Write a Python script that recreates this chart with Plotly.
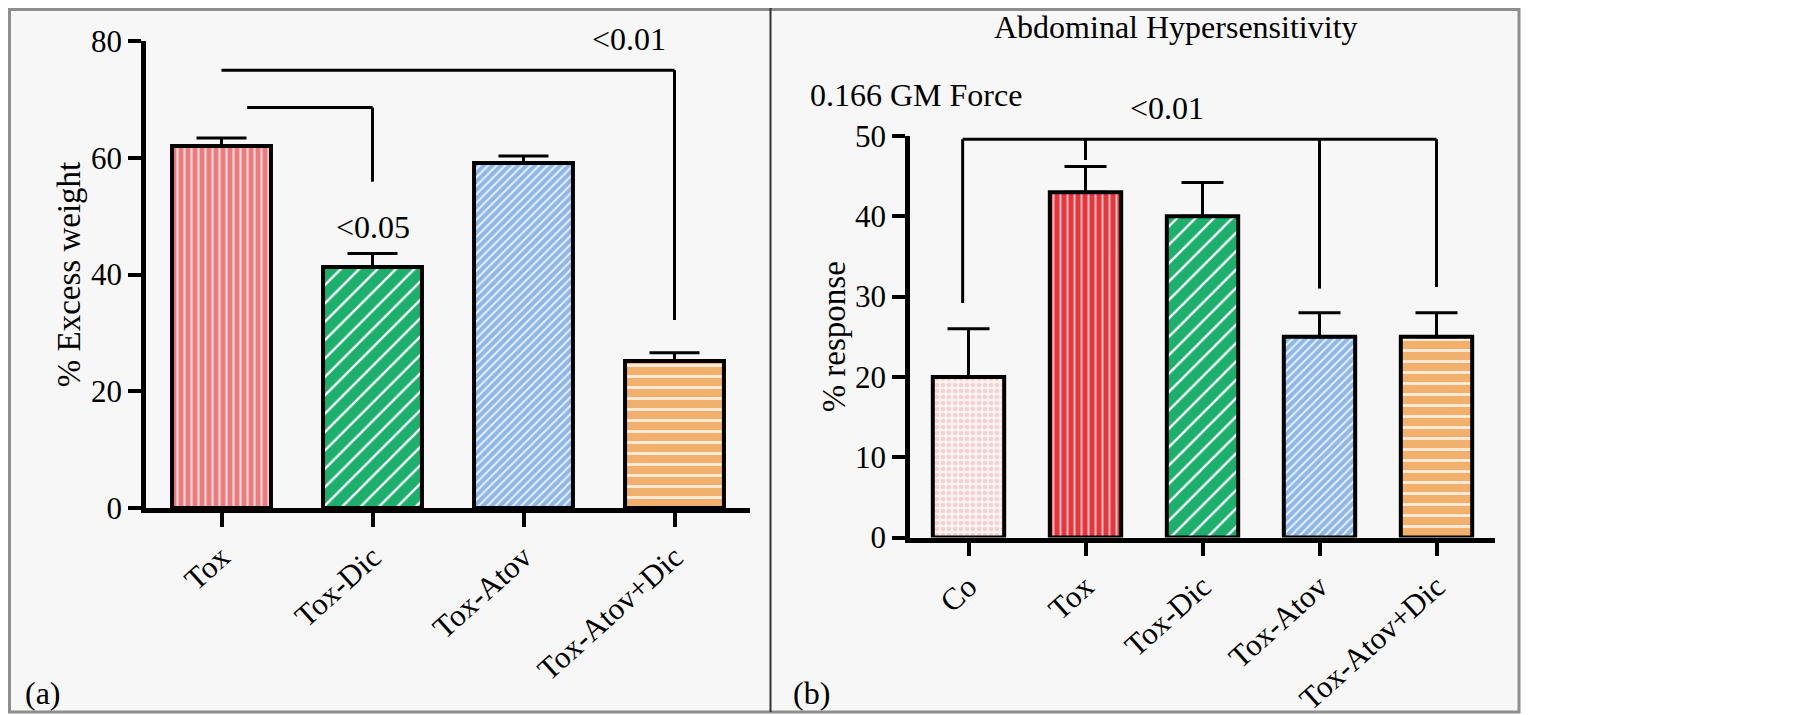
import plotly.graph_objects as go

# datos del panel (a): exceso de peso
cats_a = ['Tox', 'Tox-Dic', 'Tox-Atov', 'Tox-Atov+Dic']
weight = [62.0, 41.3, 59.1, 25.2]
weight_err = [1.4, 2.3, 1.2, 1.4]

# datos del panel (b): hipersensibilidad abdominal
cats_b = ['Co', 'Tox', 'Tox-Dic', 'Tox-Atov', 'Tox-Atov+Dic']
response = [20.0, 43.0, 40.0, 25.0, 25.0]
response_err = [6.0, 3.2, 4.2, 3.0, 3.0]

# corchetes de significancia: (desde, hasta, altura, caída en el extremo derecho)
brackets_a = [
    (0, 3, 75.0, 32.2),
    (0.17, 1, 68.6, 55.9),
]
# etiquetas de p: (texto, posición x en categorías, posición y en píxeles)
pvals_a = [('<0.01', 2.7, 39), ('<0.05', 1, 227)]

bracket_b = 49.6
drop_cats_b = [0, 1, 3, 4]
drops_b = [29.2, 47.0, 31.0, 31.2]
pvals_b = [('<0.01', 1.7, 108)]

FONT = 'Liberation Serif'
W, H = 1802, 715
OFF = 8  # margen del <body> en la página

# estilo de relleno de cada barra
styles_a = [
    dict(shape='|', bgcolor='#ee7a7c', fgcolor='#fbdede', size=7, solidity=0.3),
    dict(shape='/', bgcolor='#1daf6c', fgcolor='#ffffff', size=13, solidity=0.18),
    dict(shape='/', bgcolor='#8db6e6', fgcolor='#e4eefa', size=6, solidity=0.35),
    dict(shape='-', bgcolor='#f1b06c', fgcolor='#fdeedd', size=11, solidity=0.25),
]
styles_b = [
    dict(shape='.', bgcolor='#fbf2f2', fgcolor='#f5d2d2', size=6, solidity=0.45),
    dict(shape='|', bgcolor='#e8353b', fgcolor='#f9c4c6', size=7, solidity=0.28),
    dict(shape='/', bgcolor='#1daf6c', fgcolor='#ffffff', size=13, solidity=0.18),
    dict(shape='/', bgcolor='#8db6e6', fgcolor='#e4eefa', size=6, solidity=0.35),
    dict(shape='-', bgcolor='#f1b06c', fgcolor='#fdeedd', size=11, solidity=0.25),
]


# píxeles de la imagen -> coordenadas de papel
def px_x(x):
    return (x - OFF) / W


def px_y(y):
    return 1 - (y - OFF) / H


fig = go.Figure()

for i, c in enumerate(cats_a):
    fig.add_trace(go.Bar(
        x=[c], y=[weight[i]], width=0.655,
        marker=dict(color=styles_a[i]['bgcolor'], line=dict(color='black', width=4),
                    pattern=dict(fillmode='replace', **styles_a[i])),
        error_y=dict(type='data', array=[weight_err[i]], arrayminus=[0], symmetric=False,
                     color='black', thickness=3, width=25),
        xaxis='x', yaxis='y', showlegend=False,
    ))

for i, c in enumerate(cats_b):
    fig.add_trace(go.Bar(
        x=[c], y=[response[i]], width=0.61,
        marker=dict(color=styles_b[i]['bgcolor'], line=dict(color='black', width=4),
                    pattern=dict(fillmode='replace', **styles_b[i])),
        error_y=dict(type='data', array=[response_err[i]], arrayminus=[0], symmetric=False,
                     color='black', thickness=3, width=21),
        xaxis='x2', yaxis='y2', showlegend=False,
    ))

shapes = [
    # fondo y marco de los paneles
    dict(type='rect', xref='paper', yref='paper', x0=1.5 / W, x1=px_x(1519), y0=px_y(712), y1=1 - 1.5 / H,
         fillcolor='#f7f7f7', line=dict(color='#8e8e8e', width=3), layer='below'),
    dict(type='line', xref='paper', yref='paper', x0=px_x(770.5), x1=px_x(770.5), y0=px_y(712), y1=1,
         line=dict(color='#333333', width=2), layer='below'),
]

line_style = dict(color='black', width=3)
for x0, x1, y, drop in brackets_a:
    shapes.append(dict(type='line', xref='x', yref='y', x0=x0, x1=x1, y0=y, y1=y, line=line_style))
    shapes.append(dict(type='line', xref='x', yref='y', x0=x1, x1=x1, y0=y, y1=drop, line=line_style))

shapes.append(dict(type='line', xref='x2', yref='y2', x0=drop_cats_b[0] - 0.05, x1=drop_cats_b[-1],
                   y0=bracket_b, y1=bracket_b, line=line_style))
for k, d in zip(drop_cats_b, drops_b):
    xk = k - 0.05 if k == 0 else k
    shapes.append(dict(type='line', xref='x2', yref='y2', x0=xk, x1=xk, y0=bracket_b, y1=d, line=line_style))

txt_font = dict(family=FONT, size=32, color='black')
annotations = []
for txt, x, y in pvals_a:
    annotations.append(dict(text=txt, x=x, y=px_y(y), xref='x', yref='paper', showarrow=False,
                            xanchor='center', yanchor='middle', font=txt_font))
for txt, x, y in pvals_b:
    annotations.append(dict(text=txt, x=x, y=px_y(y), xref='x2', yref='paper', showarrow=False,
                            xanchor='center', yanchor='middle', font=txt_font))

annotations += [
    dict(text='Abdominal Hypersensitivity', x=px_x(1176), y=px_y(27), font=txt_font),
    dict(text='0.166 GM Force', x=px_x(808), y=px_y(95), xanchor='left', font=txt_font),
    dict(text='(a)', x=px_x(43), y=px_y(693), font=txt_font),
    dict(text='(b)', x=px_x(811), y=px_y(693), font=txt_font),
]
for a in annotations[-4:]:
    a.update(xref='paper', yref='paper', showarrow=False, yanchor='middle')
    a.setdefault('xanchor', 'center')

axis_common = dict(showgrid=False, zeroline=False, showline=True, linecolor='black', linewidth=4.5,
                   ticks='outside', tickwidth=4, tickcolor='black', automargin=False)
yfont = dict(family=FONT, size=31, color='black')
xfont = dict(family=FONT, size=31, color='black')

fig.update_layout(
    template='none',
    width=W, height=H,
    margin=dict(l=0, r=0, t=0, b=0),
    paper_bgcolor='white',
    plot_bgcolor='rgba(0,0,0,0)',
    shapes=shapes,
    annotations=annotations,
    xaxis=dict(domain=[px_x(146), px_x(750)], anchor='y', type='category', categoryorder='array',
               categoryarray=cats_a, range=[-0.5, 3.5], tickangle=-42, ticklen=14, tickfont=xfont,
               **axis_common),
    yaxis=dict(domain=[px_y(508), px_y(41)], anchor='x', range=[0, 80], tickvals=[0, 20, 40, 60, 80],
               ticklen=13, tickfont=yfont,
               title=dict(text='% Excess weight', font=dict(family=FONT, size=33, color='black'), standoff=2),
               **axis_common),
    xaxis2=dict(domain=[px_x(910), px_x(1495)], anchor='y2', type='category', categoryorder='array',
                categoryarray=cats_b, range=[-0.5, 4.5], tickangle=-42, ticklen=14, tickfont=xfont,
                **axis_common),
    yaxis2=dict(domain=[px_y(537.5), px_y(136)], anchor='x2', range=[0, 50],
                tickvals=[0, 10, 20, 30, 40, 50], ticklen=13, tickfont=yfont,
                title=dict(text='% response', font=dict(family=FONT, size=33, color='black'), standoff=1),
                **axis_common),
)

fig.write_html('out.html')
